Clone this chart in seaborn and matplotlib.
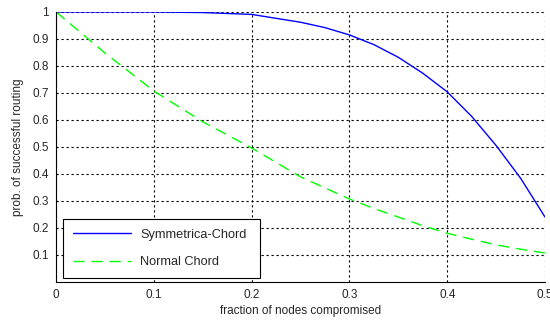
import numpy as np
import pandas as pd
import matplotlib.pyplot as plt
import seaborn as sns

# values
frac = [0.0, 0.05, 0.1, 0.15, 0.2, 0.25, 0.275, 0.3, 0.325, 0.35, 0.375, 0.4, 0.425, 0.45, 0.475, 0.5]
symmetrica = [1.0, 1.0, 1.0, 0.998, 0.991, 0.962, 0.942, 0.915, 0.879, 0.832, 0.773, 0.704, 0.613, 0.505, 0.384, 0.24]
normal = [1.0, 0.848, 0.707, 0.593, 0.496, 0.389, 0.348, 0.307, 0.272, 0.24, 0.208, 0.18, 0.158, 0.137, 0.121, 0.107]
series_names = ["Symmetrica-Chord", "Normal Chord"]
x_ticks = [0, 0.1, 0.2, 0.3, 0.4, 0.5]
y_ticks = [0.1, 0.2, 0.3, 0.4, 0.5, 0.6, 0.7, 0.8, 0.9, 1]

df = pd.DataFrame({
    "frac": frac * 2,
    "prob": symmetrica + normal,
    "series": [series_names[0]] * len(frac) + [series_names[1]] * len(frac),
})

sns.set_style("white")
plt.rcParams["font.family"] = ["Liberation Sans", "DejaVu Sans"]

fig = plt.figure(figsize=(5.5, 3.24), dpi=100)
ax = fig.add_axes([0.102, 0.13, 0.889, 0.833])

sns.lineplot(data=df, x="frac", y="prob", hue="series", style="series",
             palette=["#0000ff", "#00ff00"], dashes=[(None, None), (8, 5)],
             linewidth=1.0, ax=ax, legend=False)

ax.set_xlim(0, 0.5)
ax.set_ylim(0, 1)
ax.set_xticks(x_ticks)
ax.set_xticklabels([f"{t:g}" for t in x_ticks])
ax.set_yticks(y_ticks)
ax.set_yticklabels([f"{t:g}" for t in y_ticks])
ax.tick_params(direction="in", length=4, width=0.8, color="black", labelsize=8.5, pad=5)
ax.grid(True, color="black", linestyle=(0, (2, 2.5)), linewidth=0.8)
ax.set_axisbelow(True)
for side in ["top", "right"]:
    ax.spines[side].set_visible(False)
for side in ["left", "bottom"]:
    ax.spines[side].set_color("black")
    ax.spines[side].set_linewidth(0.8)

ax.set_xlabel("fraction of nodes compromised", fontsize=8.5, labelpad=3)
ax.set_ylabel("prob. of successful routing", fontsize=8.5, labelpad=6)

handles = [plt.Line2D([], [], color="#0000ff", lw=1.0),
           plt.Line2D([], [], color="#00ff00", lw=1.0, dashes=(8, 5))]
leg = ax.legend(handles, series_names, loc="lower left",
                bbox_to_anchor=(0.014, 0.015, 0.403, 0.215), mode="expand",
                fontsize=9.2, handlelength=4.6, handletextpad=0.7,
                labelspacing=1.2, borderpad=0.75, borderaxespad=0,
                fancybox=False, framealpha=1, edgecolor="black")
leg.get_frame().set_linewidth(0.8)
leg._legend_box.align = "left"

fig.savefig("out.png", dpi=100)
